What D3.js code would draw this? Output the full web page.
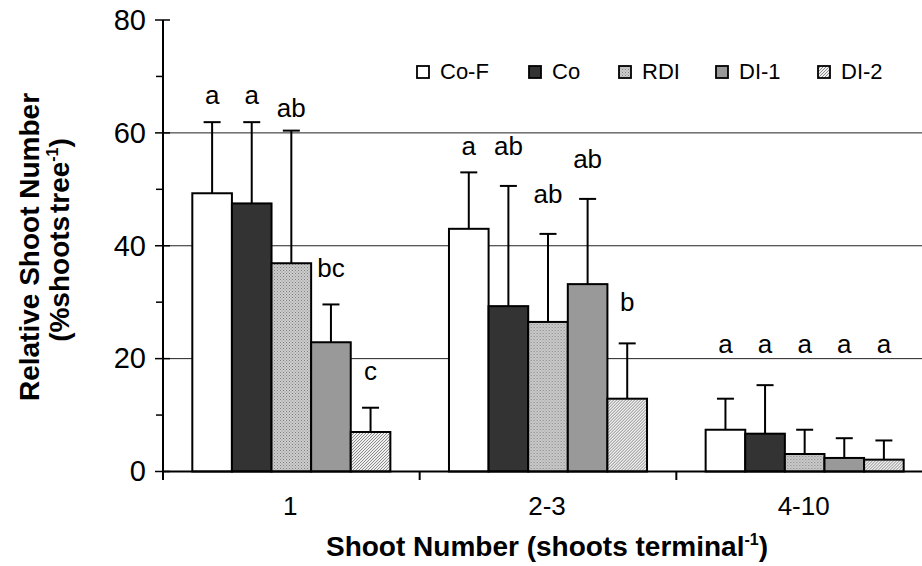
<!DOCTYPE html>
<html><head><meta charset="utf-8">
<script src="https://cdn.jsdelivr.net/npm/d3@7"></script>
<style>body{margin:0;background:#fff}svg{display:block;font-family:"Liberation Sans",Arial,sans-serif}</style>
</head><body><svg id="c" width="922" height="566"></svg>
<script>
const categories = ["1", "2-3", "4-10"];
const series = ["Co-F", "Co", "RDI", "DI-1", "DI-2"];
const means = {
  "Co-F": [49.3, 43.0, 7.4],
  "Co":   [47.5, 29.3, 6.7],
  "RDI":  [36.9, 26.5, 3.1],
  "DI-1": [22.9, 33.2, 2.4],
  "DI-2": [7.0, 12.9, 2.1]
};
const errTops = {
  "Co-F": [61.9, 53.0, 12.9],
  "Co":   [61.9, 50.6, 15.3],
  "RDI":  [60.4, 42.1, 7.4],
  "DI-1": [29.6, 48.3, 5.9],
  "DI-2": [11.3, 22.7, 5.5]
};
const letters = {
  "Co-F": ["a", "a", "a"],
  "Co":   ["a", "ab", "a"],
  "RDI":  ["ab", "ab", "a"],
  "DI-1": ["bc", "ab", "a"],
  "DI-2": ["c", "b", "a"]
};
const letterPos = {
  "Co-F": [65.2, 56.0, 21.0],
  "Co":   [65.2, 56.0, 21.0],
  "RDI":  [62.9, 47.6, 21.0],
  "DI-1": [34.4, 53.8, 21.0],
  "DI-2": [16.2, 28.4, 21.0]
};
const yTicks = [0, 20, 40, 60, 80];
const yMinor = [10, 30, 50, 70];
const gridVals = [20, 40, 60];

const svg = d3.select("#c");
const defs = svg.append("defs");
const p1 = defs.append("pattern").attr("id","stip").attr("patternUnits","userSpaceOnUse").attr("width",3).attr("height",3);
p1.append("rect").attr("width",3).attr("height",3).attr("fill","#cdcdcd");
p1.append("rect").attr("x",0).attr("y",0).attr("width",1).attr("height",1).attr("fill","#7f7f7f");
p1.append("rect").attr("x",1.5).attr("y",1.5).attr("width",1).attr("height",1).attr("fill","#8f8f8f");
const p2 = defs.append("pattern").attr("id","hatch").attr("patternUnits","userSpaceOnUse").attr("width",3).attr("height",3);
p2.append("rect").attr("width",3).attr("height",3).attr("fill","#efefef");
p2.append("path").attr("d","M0,3 L3,0 M-1,1 L1,-1 M2,4 L4,2").attr("stroke","#808080").attr("stroke-width",0.9);

const fills = {"Co-F":"#ffffff","Co":"#333333","RDI":"url(#stip)","DI-1":"#999999","DI-2":"url(#hatch)"};

const x0 = d3.scaleBand().domain(categories).range([163, 933]).paddingInner(0).paddingOuter(0);
const x1 = d3.scaleBand().domain(series).range([0, x0.bandwidth()]).paddingInner(0).paddingOuter(0.74);
const y = d3.scaleLinear().domain([0, 80]).range([471.5, 20]);

svg.append("g").selectAll("line").data(gridVals).join("line")
  .attr("x1",163).attr("x2",922).attr("y1",d=>y(d)).attr("y2",d=>y(d))
  .attr("stroke","#222").attr("stroke-width",1);

const groups = svg.append("g").selectAll("g").data(categories).join("g")
  .attr("transform", c => `translate(${x0(c)},0)`);
series.forEach(s => {
  groups.each(function(c, i) {
    const g = d3.select(this);
    const cx = x1(s) + x1.bandwidth()/2;
    g.append("line").attr("x1",cx).attr("x2",cx).attr("y1",y(means[s][i])).attr("y2",y(errTops[s][i]))
      .attr("stroke","#000").attr("stroke-width",2);
    g.append("line").attr("x1",cx-8.5).attr("x2",cx+8.5).attr("y1",y(errTops[s][i])).attr("y2",y(errTops[s][i]))
      .attr("stroke","#000").attr("stroke-width",2);
  });
});
series.forEach(s => {
  groups.each(function(c, i) {
    const g = d3.select(this);
    g.append("rect").attr("x",x1(s)).attr("width",x1.bandwidth())
      .attr("y",y(means[s][i])).attr("height",y(0)-y(means[s][i]))
      .attr("fill",fills[s]).attr("stroke","#000").attr("stroke-width",2);
    g.append("text").attr("x",x1(s)+x1.bandwidth()/2).attr("y",y(letterPos[s][i]))
      .attr("text-anchor","middle").attr("font-size",26).text(letters[s][i]);
  });
});

// y axis
const yAxis = d3.axisLeft(y).tickValues(yTicks).tickSize(0).tickPadding(17).tickFormat(d3.format("d"));
const ya = svg.append("g").attr("transform","translate(163,0)").call(yAxis);
ya.select(".domain").remove();
ya.selectAll("text").attr("font-size",29).attr("font-family","Liberation Sans, Arial, sans-serif").attr("fill","#000");
svg.append("line").attr("x1",163).attr("x2",163).attr("y1",y(80)).attr("y2",480).attr("stroke","#000").attr("stroke-width",2);
svg.append("g").selectAll("line").data(yTicks).join("line")
  .attr("x1",155).attr("x2",170).attr("y1",d=>y(d)).attr("y2",d=>y(d)).attr("stroke","#000").attr("stroke-width",1.5);
svg.append("g").selectAll("line").data(yMinor).join("line")
  .attr("x1",156).attr("x2",163).attr("y1",d=>y(d)).attr("y2",d=>y(d)).attr("stroke","#000").attr("stroke-width",1.5);

// x axis
svg.append("line").attr("x1",163).attr("x2",922).attr("y1",y(0)).attr("y2",y(0)).attr("stroke","#000").attr("stroke-width",2);
svg.append("g").selectAll("line").data(categories).join("line")
  .attr("x1",c=>x0(c)).attr("x2",c=>x0(c)).attr("y1",y(0)).attr("y2",480).attr("stroke","#000").attr("stroke-width",2);
svg.append("g").selectAll("text").data(categories).join("text")
  .attr("x",c=>x0(c)+x0.bandwidth()/2 - 1).attr("y",515).attr("text-anchor","middle").attr("font-size",26).text(c=>c);

// axis titles
const xt = svg.append("text").attr("x",547).attr("y",556).attr("text-anchor","middle")
  .attr("font-size",28).attr("font-weight","bold");
xt.append("tspan").text("Shoot Number (shoots terminal");
xt.append("tspan").attr("font-size",16).attr("dy",-11).text("-1");
xt.append("tspan").attr("dy",11).text(")");

svg.append("text").attr("transform","translate(39,247) rotate(-90)").attr("text-anchor","middle")
  .attr("font-size",28).attr("font-weight","bold").text("Relative Shoot Number");
const yt2 = svg.append("text").attr("transform","translate(69,240) rotate(-90)").attr("text-anchor","middle")
  .attr("font-size",28).attr("font-weight","bold").attr("word-spacing",-5);
yt2.append("tspan").text("(%shoots tree");
yt2.append("tspan").attr("font-size",16).attr("dy",-11).text("-1");
yt2.append("tspan").attr("dy",11).text(")");

// legend
const legX = [417, 529, 619, 716, 818];
const lg = svg.append("g").selectAll("g").data(series).join("g")
  .attr("transform",(s,i)=>`translate(${legX[i]},66)`);
lg.append("rect").attr("width",12).attr("height",12).attr("fill",s=>fills[s]).attr("stroke","#000").attr("stroke-width",1.8);
lg.append("text").attr("x",23).attr("y",13).attr("font-size",22).text(s=>s);
</script></body></html>
